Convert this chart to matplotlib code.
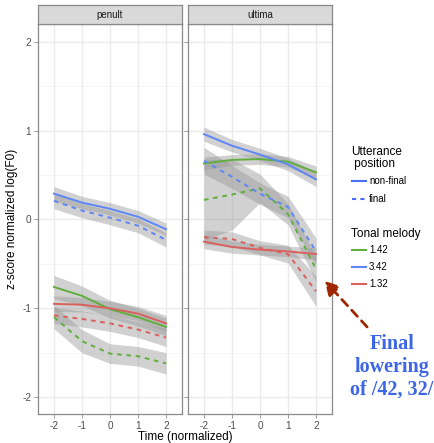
import matplotlib
matplotlib.use("Agg")
import matplotlib.pyplot as plt
from matplotlib.lines import Line2D
from matplotlib.patches import FancyArrowPatch

# ---- data ----
times = [-2, -1, 0, 1, 2]
panels = ["penult", "ultima"]
melodies = ["1.42", "3.42", "1.32"]
positions = ["non-final", "final"]

# penult
p_nf_142 = [-0.76, -0.86, -1.01, -1.10, -1.21]
p_f_142 = [-1.10, -1.37, -1.51, -1.54, -1.62]
p_nf_342 = [0.29, 0.19, 0.12, 0.03, -0.11]
p_f_342 = [0.21, 0.10, 0.02, -0.07, -0.23]
p_nf_132 = [-0.95, -0.96, -1.00, -1.06, -1.17]
p_f_132 = [-1.08, -1.12, -1.17, -1.24, -1.33]
# ultima
u_nf_142 = [0.63, 0.67, 0.68, 0.65, 0.53]
u_f_142 = [0.22, 0.28, 0.35, 0.06, -0.56]
u_nf_342 = [0.96, 0.83, 0.73, 0.62, 0.45]
u_f_342 = [0.66, 0.48, 0.29, 0.14, -0.36]
u_nf_132 = [-0.25, -0.31, -0.34, -0.36, -0.39]
u_f_132 = [-0.20, -0.22, -0.32, -0.39, -0.81]

# ribbon half widths
ci_p_nf_142 = [0.13, 0.11, 0.10, 0.10, 0.10]
ci_p_f_142 = [0.13, 0.13, 0.11, 0.11, 0.12]
ci_p_nf_342 = [0.08, 0.07, 0.07, 0.07, 0.07]
ci_p_f_342 = [0.09, 0.08, 0.08, 0.08, 0.08]
ci_p_nf_132 = [0.09, 0.08, 0.08, 0.08, 0.09]
ci_p_f_132 = [0.09, 0.09, 0.09, 0.09, 0.10]
ci_u_nf_142 = [0.07, 0.06, 0.06, 0.06, 0.07]
ci_u_f_142 = [0.45, 0.40, 0.16, 0.12, 0.14]
ci_u_nf_342 = [0.08, 0.07, 0.07, 0.07, 0.08]
ci_u_f_342 = [0.15, 0.13, 0.12, 0.12, 0.15]
ci_u_nf_132 = [0.08, 0.07, 0.06, 0.06, 0.07]
ci_u_f_132 = [0.08, 0.08, 0.08, 0.10, 0.17]

series = {
    "penult": [
        ("1.42", "non-final", p_nf_142, ci_p_nf_142),
        ("1.42", "final", p_f_142, ci_p_f_142),
        ("3.42", "non-final", p_nf_342, ci_p_nf_342),
        ("3.42", "final", p_f_342, ci_p_f_342),
        ("1.32", "non-final", p_nf_132, ci_p_nf_132),
        ("1.32", "final", p_f_132, ci_p_f_132),
    ],
    "ultima": [
        ("1.42", "non-final", u_nf_142, ci_u_nf_142),
        ("1.42", "final", u_f_142, ci_u_f_142),
        ("3.42", "non-final", u_nf_342, ci_u_nf_342),
        ("3.42", "final", u_f_342, ci_u_f_342),
        ("1.32", "non-final", u_nf_132, ci_u_nf_132),
        ("1.32", "final", u_f_132, ci_u_f_132),
    ],
}

COLORS = {"1.42": "#5fae3e", "3.42": "#5f86f7", "1.32": "#d9605c"}
DASH = (2.4, 2.4)
GRID_MAJ = "#ebebeb"
GRID_MIN = "#f5f5f5"
BORDER = "#8a8a8a"
TXT = "#4d4d4d"

plt.rcParams["font.family"] = ["Liberation Sans", "DejaVu Sans"]

W, H = 435, 443
fig = plt.figure(figsize=(W / 100, H / 100), dpi=100)

def fx(px):
    return px / W

def fy(py):
    return 1 - py / H

panel_x = {"penult": (38, 182), "ultima": (188, 332)}
top, bot = 24, 414

for i, name in enumerate(panels):
    x0, x1 = panel_x[name]
    ax = fig.add_axes([fx(x0), fy(bot), fx(x1) - fx(x0), fy(top) - fy(bot)])
    ax.set_xlim(-2.57, 2.57)
    ax.set_ylim(-2.19, 2.2)
    for v in [-1.5, -0.5, 0.5, 1.5]:
        ax.axhline(v, color=GRID_MIN, lw=0.6, zorder=0)
    for v in [-2, -1, 0, 1, 2]:
        ax.axhline(v, color=GRID_MAJ, lw=1.0, zorder=0)
        ax.axvline(v, color=GRID_MAJ, lw=1.0, zorder=0)

    for mel, pos, vals, ci in series[name]:
        lo = [v - c for v, c in zip(vals, ci)]
        hi = [v + c for v, c in zip(vals, ci)]
        ax.fill_between(times, lo, hi, color="#999999", alpha=0.45, lw=0, zorder=1)
    for mel, pos, vals, ci in series[name]:
        ln, = ax.plot(times, vals, color=COLORS[mel], lw=1.4, zorder=2)
        if pos == "final":
            ln.set_dashes(DASH)

    ax.set_xticks(times)
    ax.set_xticklabels([str(t) for t in times])
    ax.set_yticks([-2, -1, 0, 1, 2])
    if i == 0:
        ax.set_yticklabels(["-2", "-1", "0", "1", "2"])
    else:
        ax.set_yticklabels([])
        ax.tick_params(axis="y", length=0)
    ax.tick_params(colors=BORDER, labelcolor=TXT, labelsize=7.2, length=3, width=0.6, pad=2)
    for s in ax.spines.values():
        s.set_color(BORDER)
        s.set_linewidth(0.9)

    # facet strip
    sax = fig.add_axes([fx(x0), fy(top), fx(x1) - fx(x0), fy(5) - fy(top)])
    sax.set_xticks([])
    sax.set_yticks([])
    sax.set_facecolor("#d9d9d9")
    for s in sax.spines.values():
        s.set_color(BORDER)
        s.set_linewidth(0.9)
    sax.text(0.5, 0.5, name, ha="center", va="center", fontsize=7, color="#1a1a1a",
             transform=sax.transAxes)

fig.text(fx(12), fy(219), "z-score normalized log(F0)", rotation=90, ha="center",
         va="center", fontsize=8.5, color="black")
fig.text(fx(185), fy(437), "Time (normalized)", ha="center", va="center",
         fontsize=8.5, color="black")

# ---- legends ----
fig.text(fx(351), fy(152), "Utterance", ha="left", va="center", fontsize=8.5, color="black")
fig.text(fx(351), fy(164), " position", ha="left", va="center", fontsize=8.5, color="black")
for k, (lab, dashed) in enumerate([("non-final", False), ("final", True)]):
    yy = fy(181 + 18 * k)
    ln = Line2D([fx(352), fx(366)], [yy, yy], color="#4a6cf7", lw=1.5,
                transform=fig.transFigure)
    if dashed:
        ln.set_dashes((2.0, 2.0))
    fig.add_artist(ln)
    fig.text(fx(369), yy, lab, ha="left", va="center", fontsize=7, color="black")

fig.text(fx(351), fy(234), "Tonal melody", ha="left", va="center", fontsize=8.5,
         color="black")
for k, mel in enumerate(melodies):
    yy = fy(250 + 17 * k)
    fig.add_artist(Line2D([fx(352), fx(366)], [yy, yy], color=COLORS[mel], lw=1.5,
                          transform=fig.transFigure))
    fig.text(fx(369), yy, mel, ha="left", va="center", fontsize=7, color="black")

# ---- annotation ----
arr = FancyArrowPatch((fx(369), fy(329)), (fx(323), fy(279)), transform=fig.transFigure,
                      arrowstyle="-|>,head_width=4.5,head_length=8", color="#9e2600",
                      lw=2.0, linestyle=(0, (3, 2.2)))
fig.add_artist(arr)
fig.text(fx(392), fy(367), "Final\nlowering\nof /42, 32/", ha="center", va="center",
         fontsize=14.5, fontweight="bold", color="#3d66e6",
         family=["Liberation Serif", "DejaVu Serif"], linespacing=1.17)

fig.savefig("out.png", dpi=100, facecolor="white")
